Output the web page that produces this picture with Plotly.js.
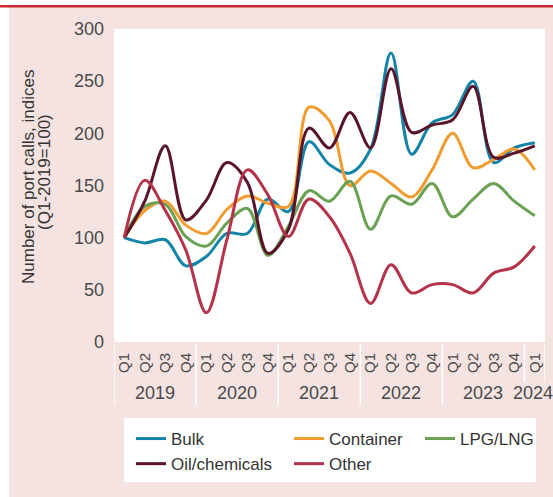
<!DOCTYPE html>
<html>
<head>
<meta charset="utf-8">
<script src="https://cdn.plot.ly/plotly-3.0.1.min.js"></script>
<style>html,body{margin:0;padding:0;background:#fff;}#chart{width:553px;height:497px;}</style>
</head>
<body>
<div id="chart"></div>
<script>
const quarters = ['Q1','Q2','Q3','Q4','Q1','Q2','Q3','Q4','Q1','Q2','Q3','Q4','Q1','Q2','Q3','Q4','Q1','Q2','Q3','Q4','Q1'];
const years    = ['2019','2019','2019','2019','2020','2020','2020','2020','2021','2021','2021','2021','2022','2022','2022','2022','2023','2023','2023','2023','2024'];
const bulk      = [100, 95, 98, 73, 82, 104, 104, 137, 125, 192, 170, 162, 185, 277, 180, 210, 218, 250, 172, 186, 191];
const container = [100, 126, 135, 112, 104, 127, 140, 133, 130, 225, 212, 150, 164, 152, 139, 165, 200, 167, 175, 185, 165];
const lpgLng    = [100, 130, 132, 101, 92, 114, 128, 83, 111, 145, 135, 154, 108, 140, 132, 152, 120, 137, 152, 135, 121];
const oilChem   = [100, 135, 188, 117, 136, 172, 153, 85, 108, 205, 186, 220, 186, 262, 201, 208, 213, 245, 177, 181, 188];
const other     = [100, 155, 126, 88, 28, 98, 165, 141, 101, 137, 120, 85, 37, 74, 47, 55, 55, 47, 66, 72, 92];

const xs = quarters.map((_, i) => i);
const FONT = 'Liberation Sans, Arial, sans-serif';

const series = [
  {name: 'Bulk', y: bulk, color: '#1384a8', legend: 'legend'},
  {name: 'Container', y: container, color: '#f09c2e', legend: 'legend2'},
  {name: 'LPG/LNG', y: lpgLng, color: '#6aa152', legend: 'legend3'},
  {name: 'Oil/chemicals', y: oilChem, color: '#5a1429', legend: 'legend'},
  {name: 'Other', y: other, color: '#b5334a', legend: 'legend2'}
];

const traces = series.map(s => ({
  type: 'scatter', mode: 'lines', name: s.name, x: xs, y: s.y,
  line: {color: s.color, width: 3, shape: 'spline', smoothing: 1},
  legend: s.legend, hoverinfo: 'skip'
}));

// plot geometry in pixels
const W = 553, H = 497, L = 114, R = 8, T = 29, B = 155;
const pw = W - L - R, ph = H - T - B;
const px2x = p => (p - L) / pw;
const py2y = p => (H - B - p) / ph;

// year groups
const uniqYears = [...new Set(years)];
const yearAnnots = uniqYears.map((yr, k) => {
  const idx = xs.filter(i => years[i] === yr);
  const c = (idx[0] + idx[idx.length - 1]) / 2;
  return {x: c, xref: 'x', y: py2y(393), yref: 'paper', text: yr, showarrow: false,
          xanchor: 'center', yanchor: 'middle', xshift: k === uniqYears.length - 1 ? -2 : 0,
          font: {family: FONT, size: 18, color: '#4a4a4a'}};
});
const bounds = [];
uniqYears.forEach((yr, k) => {
  const idx = xs.filter(i => years[i] === yr);
  bounds.push(idx[0] - 0.5);
  if (k === uniqYears.length - 1) bounds.push(idx[idx.length - 1] + 0.5);
});
const sepShapes = bounds.map((b, k) => ({
  type: 'line', xref: 'x', yref: 'paper', x0: b, x1: b,
  y0: py2y(344), y1: py2y(k >= bounds.length - 2 ? 382 : 405),
  line: {color: '#ffffff', width: 1.5}, layer: 'above'
}));

const shapes = [
  {type: 'rect', xref: 'paper', yref: 'paper', x0: px2x(9), x1: px2x(553), y0: py2y(497), y1: py2y(7),
   fillcolor: '#f4e3e1', line: {width: 0}, layer: 'below'},
  {type: 'rect', xref: 'paper', yref: 'paper', x0: 0, x1: 1, y0: 0, y1: 1,
   fillcolor: '#ffffff', line: {width: 0}, layer: 'below'},
  {type: 'line', xref: 'paper', yref: 'paper', x0: px2x(0), x1: px2x(553), y0: py2y(6.2), y1: py2y(6.2),
   line: {color: '#cc2a2f', width: 2.4}, layer: 'below'},
  {type: 'rect', xref: 'paper', yref: 'paper', x0: px2x(124), x1: px2x(536), y0: py2y(482), y1: py2y(418),
   fillcolor: '#ffffff', line: {width: 0}, layer: 'below'},
  ...sepShapes
];

const titleAnnots = [
  {text: 'Number of port calls, indices', x: px2x(28), y: py2y(177)},
  {text: '(Q1-2019=100)', x: px2x(44), y: py2y(172)}
].map(a => Object.assign(a, {xref: 'paper', yref: 'paper', textangle: -90, showarrow: false,
  xanchor: 'center', yanchor: 'middle', font: {family: FONT, size: 17, color: '#333'}}));

const legBase = {orientation: 'v', bgcolor: 'rgba(0,0,0,0)', borderwidth: 0,
  font: {family: FONT, size: 17, color: '#333'}, xanchor: 'left', yanchor: 'top',
  y: py2y(421), itemwidth: 30, tracegroupgap: 0};

const layout = {
  width: W, height: H,
  margin: {l: L, r: R, t: T, b: B, pad: 0},
  paper_bgcolor: '#ffffff', plot_bgcolor: 'rgba(0,0,0,0)',
  showlegend: true,
  legend: Object.assign({}, legBase, {x: px2x(131)}),
  legend2: Object.assign({}, legBase, {x: px2x(289)}),
  legend3: Object.assign({}, legBase, {x: px2x(420)}),
  xaxis: {range: [-0.5, 20.5], tickmode: 'array', tickvals: xs, ticktext: quarters,
          tickangle: -90, showgrid: false, zeroline: false, showline: false, ticks: 'outside',
          ticklen: 4, tickcolor: 'rgba(0,0,0,0)',
          tickfont: {family: FONT, size: 15, color: '#4a4a4a'}, fixedrange: true},
  yaxis: {range: [0, 300], dtick: 50, showgrid: false, zeroline: false, showline: false,
          ticks: '', ticklabelstandoff: 9, tickfont: {family: FONT, size: 18, color: '#4a4a4a'}, fixedrange: true},
  shapes: shapes,
  annotations: [...yearAnnots, ...titleAnnots]
};

Plotly.newPlot('chart', traces, layout, {displayModeBar: false, staticPlot: true});
</script>
</body>
</html>
